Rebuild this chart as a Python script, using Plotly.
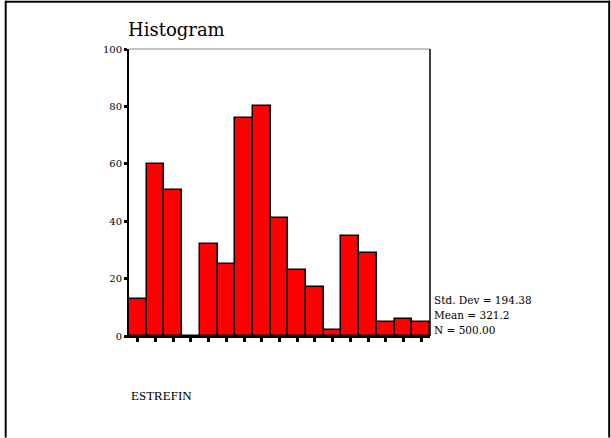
import plotly.graph_objects as go

# ---- data ----
bin_centers = [0, 50, 100, 150, 200, 250, 300, 350, 400, 450, 500, 550, 600, 650, 700, 750, 800]
counts = [13, 60, 51, 0, 32, 25, 76, 80, 41, 23, 17, 2, 35, 29, 5, 6, 5]
y_ticks = [0, 20, 40, 60, 80, 100]
stats_lines = ["Std. Dev = 194.38", "Mean = 321.2", "N = 500.00"]
title_text = "Histogram"
var_label = "ESTREFIN"

W, H = 611, 438
L, R, T, B = 129, 430.5, 49.3, 336.5  # plot area in pixels

def px_x(px):
    return (px - L) / (R - L)

def px_y(py):
    return (B - py) / (B - T)

SERIF_WIDE = "DejaVu Serif, serif"
SERIF = "Liberation Serif, Times New Roman, serif"

fig = go.Figure()
fig.add_trace(go.Bar(
    x=bin_centers, y=counts, width=50,
    marker=dict(color="#FF0000", line=dict(color="black", width=1.5)),
    showlegend=False,
))

fig.update_layout(
    width=W, height=H,
    margin=dict(l=L, r=W - R, t=T, b=H - B, pad=0),
    paper_bgcolor="white", plot_bgcolor="white",
    bargap=0,
    font=dict(family=SERIF_WIDE, color="black", size=10),
    title=dict(text=title_text, x=128 / W, xanchor="left",
               y=1 - 30 / H, yanchor="middle", xref="container", yref="container",
               font=dict(family=SERIF_WIDE, size=18, color="black")),
    xaxis=dict(range=[-25, 825], showgrid=False, zeroline=False,
               showline=True, linecolor="black", linewidth=1.5,
               tickvals=bin_centers, showticklabels=False,
               ticks="outside", ticklen=4, tickwidth=3, tickcolor="black"),
    yaxis=dict(range=[0, 100], showgrid=False, zeroline=False,
               showline=True, linecolor="black", linewidth=2,
               tickvals=y_ticks, ticks="outside", ticklen=3, tickwidth=3,
               tickcolor="black", tickfont=dict(family=SERIF_WIDE, size=10, color="black")),
)

# plot frame: top (gray) and right (dark)
fig.add_shape(type="line", xref="paper", yref="paper", x0=0, x1=1, y0=1, y1=1,
              line=dict(color="#8a8a8a", width=1))
fig.add_shape(type="line", xref="paper", yref="paper", x0=1, x1=1, y0=0, y1=1,
              line=dict(color="black", width=1.5))

# page border: top, left, right
fig.add_shape(type="line", xref="paper", yref="paper",
              x0=px_x(5), x1=px_x(611), y0=px_y(2), y1=px_y(2),
              line=dict(color="black", width=2))
fig.add_shape(type="line", xref="paper", yref="paper",
              x0=px_x(5.5), x1=px_x(5.5), y0=px_y(1), y1=px_y(438),
              line=dict(color="black", width=2))
fig.add_shape(type="line", xref="paper", yref="paper",
              x0=px_x(610), x1=px_x(610), y0=px_y(1), y1=px_y(438),
              line=dict(color="black", width=2))

# statistics text
for txt, py in zip(stats_lines, [300, 315, 330]):
    fig.add_annotation(text=txt, xref="paper", yref="paper", x=px_x(433), y=px_y(py),
                       xanchor="left", yanchor="middle", showarrow=False,
                       font=dict(family=SERIF_WIDE, size=10.5, color="black"))

# variable label
fig.add_annotation(text=var_label, xref="paper", yref="paper", x=px_x(129), y=px_y(396),
                   xanchor="left", yanchor="middle", showarrow=False,
                   font=dict(family=SERIF, size=13, color="black"))

fig.write_html("out.html")
